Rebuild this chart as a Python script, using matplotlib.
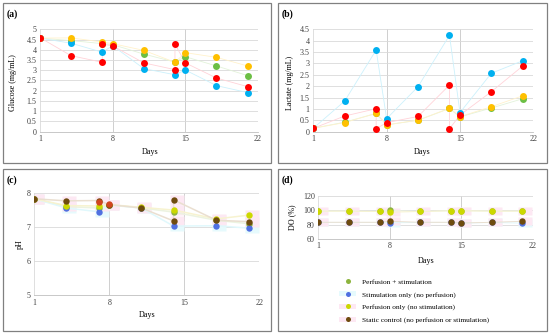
import matplotlib.pyplot as plt
import numpy as np
from matplotlib.patches import Rectangle, Patch
from matplotlib.lines import Line2D
from matplotlib.path import Path

plt.rcParams["font.family"] = ["Liberation Serif", "DejaVu Serif"]
plt.rcParams["font.size"] = 6

W, H = 550, 334

# Tage der Messungen (Kontrolle mit Werten vor/nach Mediumwechsel)
days = [1, 4, 7, 8, 11, 14, 15, 18, 21]
days_ctrl = [1, 4, 7, 7, 8, 11, 14, 14, 15, 18, 21]

# (a) Glucose
glc_perfstim = [4.57, 4.45, 4.30, 4.25, 3.79, 3.40, 3.66, 3.21, 2.74]
glc_stim = [4.57, 4.32, 3.88, 4.20, 3.08, 2.78, 3.01, 2.25, 1.91]
glc_perf = [4.57, 4.58, 4.38, 4.30, 3.97, 3.39, 3.86, 3.63, 3.21]
glc_ctrl = [4.59, 3.71, 3.39, 4.27, 4.19, 3.36, 3.03, 4.28, 3.36, 2.62, 2.20]

# (b) Lactate
lac_perfstim = [0.15, 0.42, 0.80, 0.30, 0.50, 1.02, 0.65, 1.04, 1.45]
lac_stim = [0.15, 1.35, 3.59, 0.57, 1.98, 4.24, 0.84, 2.57, 3.12]
lac_perf = [0.15, 0.40, 0.81, 0.30, 0.51, 1.03, 0.66, 1.10, 1.58]
lac_ctrl = [0.15, 0.69, 1.01, 0.13, 0.40, 0.67, 2.05, 0.13, 0.73, 1.76, 2.89]

# (c) pH
days_ph = [1, 4, 7, 8, 11, 14, 18, 21]
days_ph_ctrl = [1, 4, 7, 8, 11, 14, 14, 18, 21]
ph_perfstim = [7.83, 7.60, 7.56, 7.65, 7.56, 7.44, 7.20, 7.10]
ph_stim = [7.83, 7.56, 7.45, 7.65, 7.56, 7.03, 7.04, 6.97]
ph_perf = [7.83, 7.63, 7.62, 7.66, 7.58, 7.50, 7.24, 7.35]
ph_ctrl = [7.83, 7.77, 7.78, 7.66, 7.56, 7.18, 7.80, 7.20, 7.16]
days_ph_red = [7, 8]
ph_red = [7.73, 7.68]

# (d) DO
do_perfstim = [99.0, 99.0, 98.5, 100.0, 98.5, 99.5, 99.5, 99.0, 99.0]
do_stim = [83.0, 83.0, 83.0, 82.5, 83.0, 83.0, 82.0, 83.0, 82.0]
do_perf = [99.0, 99.0, 98.5, 97.5, 98.5, 99.5, 99.5, 99.0, 99.0]
do_ctrl = [83.2, 83.2, 83.2, 84.6, 83.2, 83.2, 82.2, 83.2, 84.6]

labels = ["Perfusion + stimulation", "Stimulation only (no perfusion)",
          "Perfusion only (no stimulation)", "Static control (no perfusion or stimulation)"]

col_ab = ["#6CBF45", "#00B0F0", "#FFC000", "#FF0000"]
line_ab = ["#E3F3DA", "#CCF1FC", "#FFF2CC", "#FFD3D9"]
col_cd = ["#8DB43E", "#5070E0", "#CCD800", "#6E4B0E"]
line_cd = ["#ECF3E0", "#E0F8FC", "#F7F3D0", "#EADFD0"]
band_cd = [None, "#E6FAFD", "#FDE8F3", "#FDE8F3"]

# breites Rechteck als Marker fuer die blassen Baender
band = Path([(-0.4, -0.5), (1.1, -0.5), (1.1, 0.5), (-0.4, 0.5), (-0.4, -0.5)],
            [Path.MOVETO, Path.LINETO, Path.LINETO, Path.LINETO, Path.CLOSEPOLY])

fig = plt.figure(figsize=(W / 100, H / 100), dpi=100)


def px_axes(x0, x1, ytop, ybot):
    return fig.add_axes([x0 / W, 1 - ybot / H, (x1 - x0) / W, (ybot - ytop) / H])


def frame(x0, y0, x1, y1):
    fig.patches.append(Rectangle((x0 / W, 1 - y1 / H), (x1 - x0) / W, (y1 - y0) / H,
                                 transform=fig.transFigure, fill=False,
                                 ec="#808080", lw=0.9))


def style(ax, ylim, yticks):
    ax.set_xlim(1, 22)
    ax.set_ylim(*ylim)
    ax.set_xticks([1, 8, 15, 22])
    ax.set_yticks(yticks)
    ax.set_yticklabels([f"{v:g}" for v in yticks])
    ax.tick_params(length=0, pad=2.5, labelsize=5.8, labelcolor="#404040")
    for s in ["top", "right"]:
        ax.spines[s].set_visible(False)
    ax.spines["left"].set_color("#D9D9D9")
    ax.spines["bottom"].set_color("#BFBFBF")
    ax.spines["left"].set_linewidth(0.6)
    ax.spines["bottom"].set_linewidth(0.6)
    ax.yaxis.grid(True, color="#D9D9D9", lw=0.6)
    ax.set_axisbelow(True)
    for d in [8, 15]:
        ax.axvline(d, color="#C8C8C8", lw=0.6, zorder=0.5)


def series(ax, xs, ys, cols, lcols, ms, lw=0.6, bands=None, bsize=14):
    if bands is not None:
        for x, y, b in zip(xs, ys, bands):
            if b is not None:
                ax.plot(x, y, ls="none", marker=band, ms=bsize, color=b, mec="none", zorder=1)
    for x, y, lc in zip(xs, ys, lcols):
        ax.plot(x, y, "-", color=lc, lw=lw, zorder=2)
    for x, y, c in zip(xs, ys, cols):
        ax.plot(x, y, "o", color=c, ms=ms, mec="none", zorder=3)


# (a)
frame(3, 3, 271, 163)
ax = px_axes(40, 258, 29.3, 131.7)
style(ax, (0, 5), np.arange(0, 5.01, 0.5))
series(ax, [days, days, days, days_ctrl], [glc_perfstim, glc_stim, glc_perf, glc_ctrl],
       col_ab, line_ab, 5.0)
fig.text(13 / W, 1 - 83 / H, "Glucose (mg/mL)", rotation=90, ha="center", va="center", fontsize=5.8)
fig.text(150 / W, 1 - 152 / H, "Days", ha="center", va="center", fontsize=5.8)
fig.text(7 / W, 1 - 14 / H, "(a)", fontweight="bold", ha="left", va="center", fontsize=7)

# (b)
frame(278, 3, 547, 163)
ax = px_axes(313.3, 533.3, 29.3, 131.7)
style(ax, (0, 4.5), np.arange(0, 4.51, 0.5))
series(ax, [days, days, days, days_ctrl], [lac_perfstim, lac_stim, lac_perf, lac_ctrl],
       col_ab, line_ab, 5.0)
fig.text(290 / W, 1 - 83 / H, "Lactate (mg/mL)", rotation=90, ha="center", va="center", fontsize=5.8)
fig.text(422 / W, 1 - 152 / H, "Days", ha="center", va="center", fontsize=5.8)
fig.text(282 / W, 1 - 14 / H, "(b)", fontweight="bold", ha="left", va="center", fontsize=7)

# (c)
frame(3, 169, 271, 331)
ax = px_axes(34.3, 259.3, 193, 295.3)
style(ax, (5, 8), [5, 6, 7, 8])
series(ax, [days_ph, days_ph, days_ph, days_ph_ctrl], [ph_perfstim, ph_stim, ph_perf, ph_ctrl],
       col_cd, line_cd, 4.6, lw=1.1, bands=band_cd, bsize=15)
ax.plot(days_ph_red, ph_red, "o", color="#D2451E", ms=4.6, mec="none", zorder=3)
fig.text(20 / W, 1 - 244 / H, "pH", rotation=90, ha="center", va="center", fontsize=5.8)
fig.text(147 / W, 1 - 315 / H, "Days", ha="center", va="center", fontsize=5.8)
fig.text(7 / W, 1 - 180 / H, "(c)", fontweight="bold", ha="left", va="center", fontsize=7)

# (d)
frame(278, 169, 547, 331)
ax = px_axes(318.3, 532.7, 196.3, 238.7)
style(ax, (60, 120), [60, 80, 100, 120])
series(ax, [days, days, days, days], [do_perfstim, do_stim, do_perf, do_ctrl],
       col_cd, line_cd, 4.6, lw=0.7, bands=band_cd, bsize=14)
fig.text(292 / W, 1 - 217 / H, "DO (%)", rotation=90, ha="center", va="center", fontsize=5.8)
fig.text(426 / W, 1 - 261 / H, "Days", ha="center", va="center", fontsize=5.8)
fig.text(282 / W, 1 - 180 / H, "(d)", fontweight="bold", ha="left", va="center", fontsize=7)

# Legende unten rechts
handles = []
for c, b in zip(col_cd, band_cd):
    p = Patch(fc=b if b else "none", ec="none")
    m = Line2D([], [], ls="none", marker="o", color=c, mec="none", ms=3.6)
    handles.append((p, m))
fig.legend(handles, labels, loc="upper left", bbox_to_anchor=(335 / W, 1 - 275 / H),
           frameon=False, fontsize=5.3, handlelength=2.4, labelspacing=0.85,
           handletextpad=0.8, borderpad=0)

fig.savefig("out.png", dpi=100)
